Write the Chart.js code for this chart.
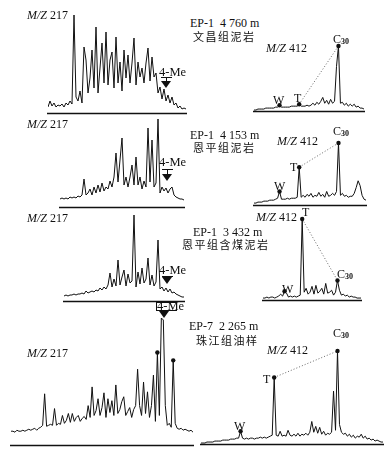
<!DOCTYPE html>
<html>
<head>
<meta charset="utf-8">
<script src="https://cdn.jsdelivr.net/npm/chart.js@4.4.1/dist/chart.umd.min.js"></script>
<style>
  body { margin: 0; background: #fff; }
  #fig { position: relative; width: 388px; height: 455px; overflow: hidden;
         font-family: "Liberation Serif", "DejaVu Serif", serif; color: #111; }
  #fig canvas { position: absolute; }
  .t { position: absolute; white-space: nowrap; line-height: 1; font-size: 12px; z-index: 2; }
  .cn { font-family: "Noto Sans CJK SC", sans-serif; font-size: 11px; letter-spacing: 1.5px; }
  .sub { font-size: 8px; font-weight: bold; position: relative; top: 1px; }
  .bar { position: absolute; background: #111; z-index: 2; }
  .tri { position: absolute; width: 0; height: 0; border-left: 5px solid transparent;
         border-right: 5px solid transparent; border-top: 7px solid #111; z-index: 2; }
</style>
</head>
<body>
<div id="fig"></div>
<script>
// m/z 217 traces (relative intensity)
const m217_EP1_4760 = [6,12,7,10,6,8,7,9,6,10,8,12,9,98,16,12,22,10,66,53,20,35,63,25,86,20,45,70,30,81,28,53,61,25,76,30,51,22,63,35,58,30,50,75,28,51,36,45,30,50,65,32,56,36,40,20,26,14,24,12,18,10,16,8,10,5,7,4,5,4];
const m217_EP1_4153 = [8,9,8,9,8,10,9,10,9,11,10,12,28,12,14,18,12,20,14,22,15,24,16,20,18,26,20,30,54,25,47,69,22,30,20,30,42,22,50,22,30,18,26,20,79,25,67,20,24,88,14,20,16,19,14,18,20,12,10,9,8,8,7];
const m217_EP1_3432 = [5,6,5,6,6,7,6,7,7,8,7,10,8,9,10,9,11,10,13,11,14,12,16,28,14,22,15,41,16,24,31,15,27,18,20,86,14,29,17,33,18,22,43,16,26,15,19,61,12,14,10,13,9,12,8,9,7,6,5,4,4];
const m217_EP7_2265 = [14,14,13,15,14,14,15,14,15,16,15,16,17,15,17,18,20,52,19,20,21,20,37,20,22,21,30,22,25,32,23,32,24,28,30,24,27,29,26,40,28,59,30,35,47,30,38,53,28,47,33,45,30,61,32,36,44,49,30,34,38,28,36,40,77,40,30,64,32,54,28,40,71,24,94,30,129,127,40,20,22,18,86,22,17,16,17,15,16,15,14,15,13];

// m/z 412 traces
const m412_EP1_4760 = [1,1,2,2,2,2,3,3,3,3,3,4,4,6,4,4,4,4,4,5,5,5,5,7,5,5,5,6,5,6,8,6,9,7,10,14,8,11,7,12,8,10,46,67,8,9,6,8,5,7,5,7,4,5,3,3,2];
const m412_EP1_4153 = [2,2,3,3,3,4,4,4,5,5,5,6,7,14,6,6,6,7,6,7,7,7,8,39,8,10,8,11,9,12,8,10,9,13,9,11,8,14,9,10,12,10,14,64,10,12,9,10,8,9,9,12,18,25,20,10,6,5];
const m412_EP1_3432 = [2,2,3,2,3,3,2,3,4,6,4,9,7,3,4,3,4,3,4,5,83,8,12,6,8,14,6,15,7,9,12,6,17,7,8,10,5,8,20,10,5,6,4,5,3,4,3,3,2,2,2];
const m412_EP7_2265 = [1,1,1,2,2,2,2,3,3,3,3,4,4,4,4,5,5,5,6,6,13,6,5,6,5,6,6,5,6,6,7,6,7,6,7,8,9,68,9,8,13,8,9,8,14,9,8,10,8,11,8,10,9,11,9,12,23,12,18,11,17,10,13,9,11,10,12,54,14,95,20,12,10,11,8,10,7,9,6,8,7,10,6,8,5,6,4,5,3,4,3,2,2];

// marked peaks (reading index): W, T, C30
const peaks_4760 = [13, 23, 43];
const peaks_4153 = [13, 23, 43];
const peaks_3432 = [11, 20, 38];
const peaks_2265 = [20, 37, 69];
const dots_217_2265 = [74, 82];

// panel placement
const panels = [
  { data: m217_EP1_4760, x0: 48,  x1: 186, top: 15,  axisY: 113, marks: [] },
  { data: m412_EP1_4760, x0: 253, x1: 365, top: 46,  axisY: 113, marks: peaks_4760, link: peaks_4760.slice(1) },
  { data: m217_EP1_4153, x0: 60,  x1: 184, top: 119, axisY: 207, marks: [] },
  { data: m412_EP1_4153, x0: 253, x1: 367, top: 143, axisY: 207, marks: peaks_4153, link: peaks_4153.slice(1) },
  { data: m217_EP1_3432, x0: 64,  x1: 184, top: 215, axisY: 301, marks: [] },
  { data: m412_EP1_3432, x0: 262, x1: 362, top: 219, axisY: 302, marks: peaks_3432, link: peaks_3432.slice(1) },
  { data: m217_EP7_2265, x0: 10,  x1: 194, top: 318, axisY: 447, marks: dots_217_2265 },
  { data: m412_EP7_2265, x0: 200, x1: 384, top: 351, axisY: 446, marks: peaks_2265, link: peaks_2265.slice(1) }
];

const fig = document.getElementById("fig");

// horizontal axis line under each trace
const baseline = {
  id: "baseline",
  afterDraw(chart) {
    const { ctx, chartArea: a } = chart;
    ctx.save();
    ctx.strokeStyle = "#111";
    ctx.lineWidth = 1.3;
    ctx.beginPath();
    ctx.moveTo(a.left - 1, a.bottom + 0.5);
    ctx.lineTo(a.right + 1, a.bottom + 0.5);
    ctx.stroke();
    ctx.restore();
  }
};

function makePanel(p) {
  const padT = 6, padB = 2, padX = 3;
  const plotH = p.axisY - p.top;
  const canvas = document.createElement("canvas");
  canvas.width = p.x1 - p.x0 + 2 * padX;
  canvas.height = plotH + padT + padB;
  canvas.style.left = (p.x0 - padX) + "px";
  canvas.style.top = (p.top - padT) + "px";
  fig.appendChild(canvas);

  const pts = idx => idx.map(i => ({ x: i, y: p.data[i] }));
  const datasets = [
    {
      data: p.data.map((v, i) => ({ x: i, y: v })),
      borderColor: "#111", borderWidth: 1, pointRadius: 0, tension: 0
    },
    {
      data: pts(p.marks), showLine: false, pointRadius: 2.2,
      pointBackgroundColor: "#111", pointBorderWidth: 0, clip: false
    }
  ];
  if (p.link) {
    datasets.push({
      data: pts(p.link), borderColor: "#444", borderWidth: 0.8,
      borderDash: [1, 2], pointRadius: 0, clip: false
    });
  }

  new Chart(canvas, {
    type: "line",
    data: { datasets },
    options: {
      responsive: false,
      animation: false,
      events: [],
      layout: { padding: { top: padT, bottom: padB, left: padX, right: padX } },
      scales: {
        x: { type: "linear", display: false, min: 0, max: p.data.length - 1 },
        y: { display: false, min: 0, max: Math.max(...p.data) }
      },
      plugins: { legend: { display: false }, tooltip: { enabled: false } }
    },
    plugins: [baseline]
  });
}

panels.forEach(makePanel);

// text labels
function put(x, yc, html, cls, size) {
  const d = document.createElement("div");
  d.className = "t" + (cls ? " " + cls : "");
  d.innerHTML = html;
  const fs = size || (cls === "cn" ? 11 : 12);
  d.style.fontSize = fs + "px";
  d.style.left = x + "px";
  d.style.top = (yc - fs / 2) + "px";
  fig.appendChild(d);
}
const mz217 = "<i>M/Z</i> 217";
const mz412 = "<i>M/Z</i> 412";
const c30 = 'C<span class="sub">30</span>';

put(27, 15, mz217);  put(27, 124, mz217);  put(27, 218, mz217);  put(27, 353, mz217);
put(159, 72, "4-Me", "", 12.5);  put(159, 162, "4-Me", "", 12.5);
put(159, 270, "4-Me", "", 12.5); put(157, 306, "4-Me", "", 12.5);

put(190, 23, "EP-1&nbsp; 4 760 m");  put(193, 36, "文昌组泥岩", "cn");
put(266, 48, mz412);  put(333, 39, c30);  put(273, 100, "W");  put(294, 98, "T");

put(190, 135, "EP-1&nbsp; 4 153 m"); put(193, 147, "恩平组泥岩", "cn");
put(277, 141, mz412); put(333, 131, c30); put(290, 167, "T"); put(274, 186, "W");

put(256, 217, mz412); put(302, 212, "T");
put(193, 232, "EP-1&nbsp; 3 432 m"); put(182, 244, "恩平组含煤泥岩", "cn");
put(337, 274, c30);   put(282, 289, "W");

put(189, 326, "EP-7&nbsp; 2 265 m"); put(196, 340, "珠江组油样", "cn");
put(267, 350, mz412); put(333, 333, c30); put(263, 379, "T"); put(234, 426, "W");

// 4-Me arrows
function box(x, y, w, h, style) {
  const d = document.createElement("div");
  d.className = "bar";
  d.style.left = x + "px"; d.style.top = y + "px";
  d.style.width = w + "px"; d.style.height = h + "px";
  if (style) Object.assign(d.style, style);
  fig.appendChild(d);
}
function tri(x, tipY) {
  const d = document.createElement("div");
  d.className = "tri";
  d.style.left = (x - 5) + "px";
  d.style.top = (tipY - 7) + "px";
  fig.appendChild(d);
}
function arrow(x, barY, tipY) {
  box(x - 5, barY, 11, 1.2);
  box(x - 0.5, barY, 1.2, tipY - 6 - barY);
  tri(x, tipY);
}
arrow(166, 77, 88);
arrow(167, 169, 181);
arrow(167, 276, 284);
box(156, 302, 21, 9, { background: "transparent", border: "1px solid #111", boxSizing: "border-box" });
tri(164, 318);
</script>
</body>
</html>
